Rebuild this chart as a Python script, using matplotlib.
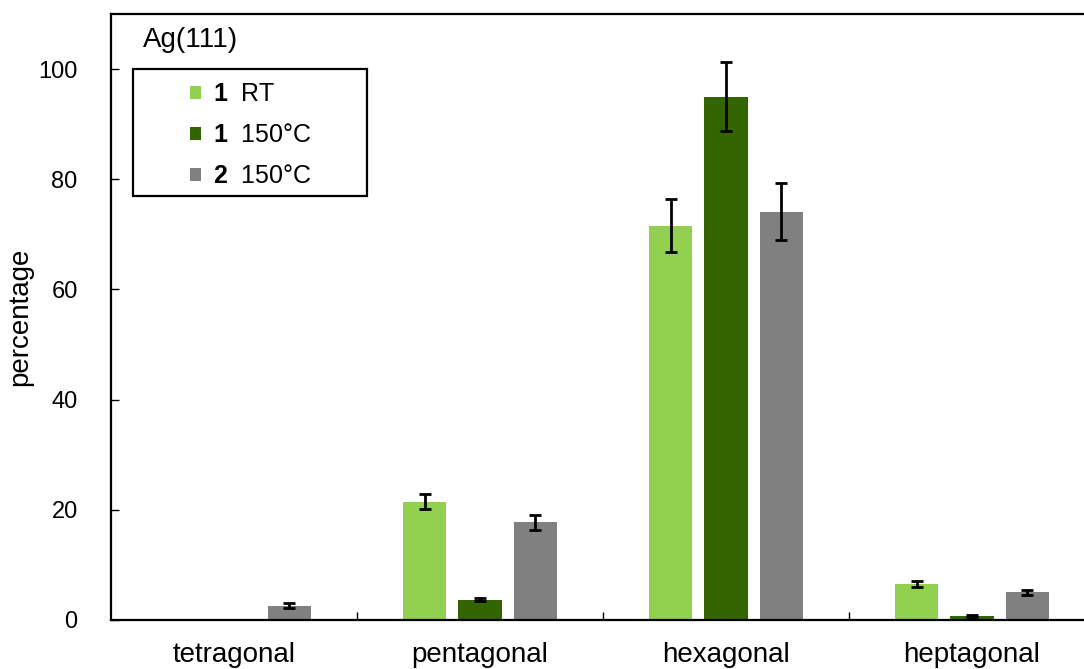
import numpy as np
import matplotlib.pyplot as plt
from matplotlib.patches import Patch, Rectangle

plt.rcParams['font.family'] = 'Liberation Sans'
plt.rcParams['mathtext.fontset'] = 'custom'
plt.rcParams['mathtext.rm'] = 'Liberation Sans'
plt.rcParams['mathtext.bf'] = 'Liberation Sans:bold'

# Data
categories = ['tetragonal', 'pentagonal', 'hexagonal', 'heptagonal']
series_labels = [r'$\mathbf{1}$  RT', r'$\mathbf{1}$  150°C', r'$\mathbf{2}$  150°C']
rt_1 = [0.0, 21.5, 71.6, 6.5]
rt_1_err = [0.0, 1.4, 4.8, 0.5]
hot_1 = [0.0, 3.7, 95.0, 0.7]
hot_1_err = [0.0, 0.3, 6.3, 0.2]
hot_2 = [2.6, 17.7, 74.1, 5.0]
hot_2_err = [0.4, 1.3, 5.2, 0.5]

colors = ['#92D050', '#336600', '#808080']

W, H = 1084, 669
fig = plt.figure(figsize=(W / 100, H / 100), dpi=100)
# right edge of the frame lies just outside the picture, as in the original
ax = fig.add_axes([111 / W, (H - 620) / H, 984 / W, (620 - 14) / H])

x = np.arange(len(categories))
width = 0.175
offset = 0.224
handles = []
for i, (vals, errs) in enumerate([(rt_1, rt_1_err), (hot_1, hot_1_err), (hot_2, hot_2_err)]):
    pos = x + (i - 1) * offset
    vals = np.array(vals)
    errs = np.array(errs)
    ax.bar(pos, vals, width, color=colors[i], zorder=2)
    mask = vals > 0
    ax.errorbar(pos[mask], vals[mask], yerr=errs[mask], fmt='none', ecolor='black',
                elinewidth=2, capsize=4, capthick=2, zorder=3)
    handles.append(Patch(facecolor=colors[i], edgecolor='none'))

ax.set_xlim(-0.5, 3.5)
ax.set_ylim(0, 110)
ax.set_yticks([0, 20, 40, 60, 80, 100])
ax.set_xticks(x)
ax.set_xticklabels(categories, fontsize=20)
ax.set_xticks(np.arange(0.5, 3.5, 1), minor=True)
ax.tick_params(axis='x', which='major', length=0, pad=16)
ax.tick_params(axis='x', which='minor', direction='in', length=6, width=1)
ax.tick_params(axis='y', direction='in', length=6, width=1, labelsize=17, pad=24)
ax.set_ylabel('percentage', fontsize=20)
ax.yaxis.set_label_coords(-0.079, 0.5)

for s in ax.spines.values():
    s.set_linewidth(1.6)

ax.text(143 / W, 1 - 40 / H, 'Ag(111)', fontsize=20, transform=fig.transFigure, va='center')

# Legend: box drawn separately, entries inset like in the original
fig.patches.append(Rectangle((133 / W, 1 - 196 / H), 234 / W, 127 / H,
                             transform=fig.transFigure, fill=False,
                             edgecolor='black', linewidth=1.6, zorder=5))
leg = ax.legend(handles, series_labels, loc='upper left',
                bbox_to_anchor=(190 / W, 1 - 82 / H), bbox_transform=fig.transFigure,
                fontsize=18, frameon=False,
                handlelength=0.42, handleheight=0.42, handletextpad=0.5,
                borderpad=0, labelspacing=0.68, borderaxespad=0)

fig.savefig('out.png', dpi=100)
